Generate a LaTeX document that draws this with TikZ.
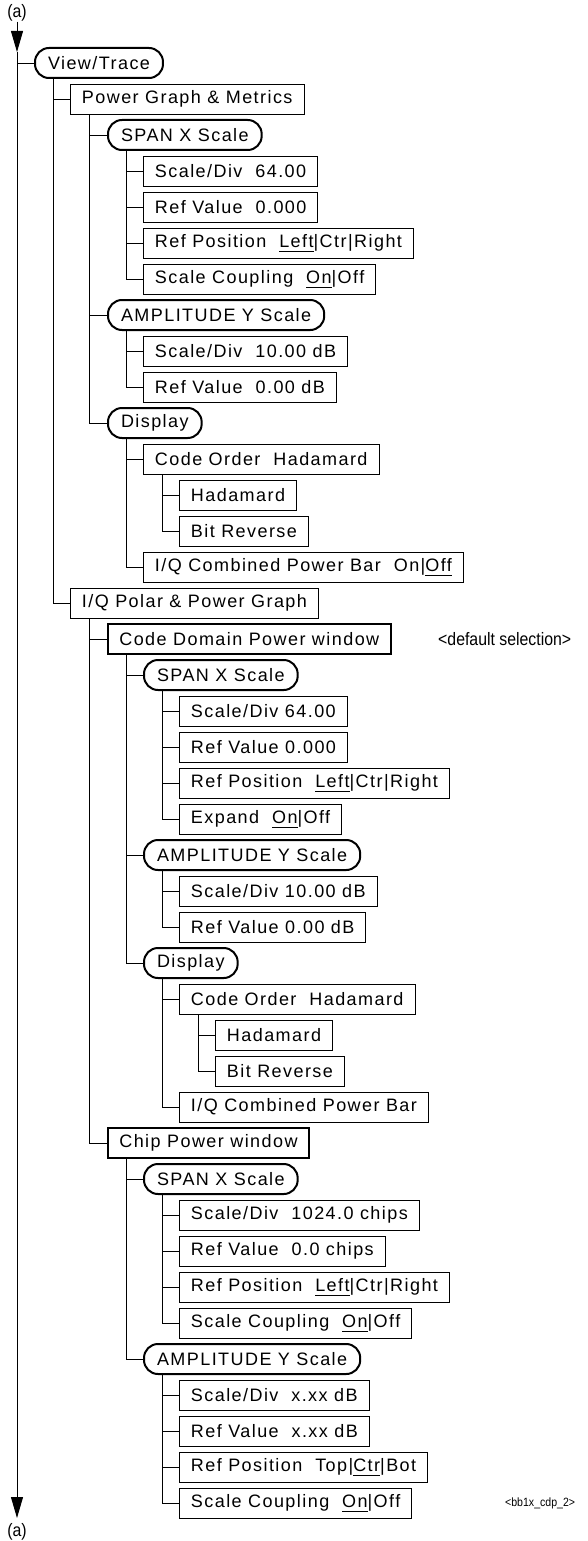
\documentclass[tikz,border=0pt]{standalone}
\usepackage{fontspec}
\setmainfont{Liberation Sans}[LetterSpace=8]
\newfontfamily\narrowfont{Liberation Sans}[FakeStretch=0.88]
\usetikzlibrary{arrows.meta}
\newcommand\undl[1]{\setbox0\hbox{#1}\rlap{\rule[-3.8pt]{\wd0}{0.9pt}}\box0}
\tikzset{
 item/.style={draw, line width=0.9pt, anchor=west, minimum height=30pt, inner xsep=11.5pt, inner ysep=0pt, font=\fontsize{18}{20}\selectfont},
 menu/.style={item, line width=2pt, rounded corners=14pt, inner xsep=13pt},
 win/.style={item, line width=1.7pt},
 link/.style={line width=0.9pt},
 lbl/.style={inner sep=0pt},
 tip/.style={link, -{Triangle[length=21pt,width=12pt]}},
}
\begin{document}
\begin{tikzpicture}[x=1pt,y=1pt]
\useasboundingbox (0,0) rectangle (587,-1541);
% labels
\node[lbl, font=\narrowfont\fontsize{18}{20}\selectfont] (atop) at (17,-13) {(a)};
\node[lbl, font=\narrowfont\fontsize{18}{20}\selectfont] (abot) at (17,-1532) {(a)};
\coordinate (m1) at (17,-52);
\coordinate (m2) at (17,-1518);
\coordinate (j1) at (17,-63);
% nodes
\node[menu] (r1) at (34,-63) {View/Trace};
\node[item] (r2) at (70,-99) {Power Graph \& Metrics};
\node[menu] (r3) at (107,-135) {SPAN X Scale};
\node[item] (r4) at (143,-171) {Scale/Div\ \ 64.00};
\node[item] (r5) at (143,-207) {Ref Value\ \ 0.000};
\node[item] (r6) at (143,-243) {Ref Position\ \ \undl{Left}|Ctr|Right};
\node[item] (r7) at (143,-279) {Scale Coupling\ \ \undl{On}|Off};
\node[menu] (r8) at (107,-315) {AMPLITUDE Y Scale};
\node[item] (r9) at (143,-351) {Scale/Div\ \ 10.00 dB};
\node[item] (r10) at (143,-387) {Ref Value\ \ 0.00 dB};
\node[menu] (r11) at (107,-423) {Display};
\node[item] (r12) at (143,-459) {Code Order\ \ Hadamard};
\node[item] (r13) at (179,-495) {Hadamard};
\node[item] (r14) at (179,-531) {Bit Reverse};
\node[item] (r15) at (143,-567) {I/Q Combined Power Bar\ \ On|\undl{Off}};
\node[item] (r16) at (70,-603) {I/Q Polar \& Power Graph};
\node[win] (r17) at (107,-639) {Code Domain Power window};
\node[menu] (r18) at (143,-675) {SPAN X Scale};
\node[item] (r19) at (179,-711) {Scale/Div 64.00};
\node[item] (r20) at (179,-747) {Ref Value 0.000};
\node[item] (r21) at (179,-783) {Ref Position\ \ \undl{Left}|Ctr|Right};
\node[item] (r22) at (179,-819) {Expand\ \ \undl{On}|Off};
\node[menu] (r23) at (143,-855) {AMPLITUDE Y Scale};
\node[item] (r24) at (179,-891) {Scale/Div 10.00 dB};
\node[item] (r25) at (179,-927) {Ref Value 0.00 dB};
\node[menu] (r26) at (143,-963) {Display};
\node[item] (r27) at (179,-999) {Code Order\ \ Hadamard};
\node[item] (r28) at (215,-1035) {Hadamard};
\node[item] (r29) at (215,-1071) {Bit Reverse};
\node[item] (r30) at (179,-1107) {I/Q Combined Power Bar};
\node[win] (r31) at (107,-1143) {Chip Power window};
\node[menu] (r32) at (143,-1179) {SPAN X Scale};
\node[item] (r33) at (179,-1215) {Scale/Div\ \ 1024.0 chips};
\node[item] (r34) at (179,-1251) {Ref Value\ \ 0.0 chips};
\node[item] (r35) at (179,-1287) {Ref Position\ \ \undl{Left}|Ctr|Right};
\node[item] (r36) at (179,-1323) {Scale Coupling\ \ \undl{On}|Off};
\node[menu] (r37) at (143,-1359) {AMPLITUDE Y Scale};
\node[item] (r38) at (179,-1395) {Scale/Div\ \ x.xx dB};
\node[item] (r39) at (179,-1431) {Ref Value\ \ x.xx dB};
\node[item] (r40) at (179,-1467) {Ref Position\ \ Top|\undl{Ctr}|Bot};
\node[item] (r41) at (179,-1503) {Scale Coupling\ \ \undl{On}|Off};
\node[lbl, font=\narrowfont\fontsize{18}{20}\selectfont, anchor=west] (def) at (438,-639) {<default selection>};
\node[lbl, font=\narrowfont\fontsize{12}{14}\selectfont, anchor=west] (tag) at (505,-1503) {<bb1x\_cdp\_2>};
% main line
\draw[tip] (atop.south) -- (m1);
\draw[tip] (m1) -- (m2);
\draw[link] (j1) -- (r1.west);
% tree connectors
\foreach \p/\c in {r1/r2,r1/r16,r2/r3,r2/r8,r2/r11,r3/r4,r3/r5,r3/r6,r3/r7,r8/r9,r8/r10,r11/r12,r11/r15,r12/r13,r12/r14,
  r16/r17,r16/r31,r17/r18,r17/r23,r17/r26,r18/r19,r18/r20,r18/r21,r18/r22,r23/r24,r23/r25,r26/r27,r26/r30,r27/r28,r27/r29,
  r31/r32,r31/r37,r32/r33,r32/r34,r32/r35,r32/r36,r37/r38,r37/r39,r37/r40,r37/r41}
  \draw[link] ([xshift=19pt]\p.south west) |- (\c.west);
\end{tikzpicture}
\end{document}
